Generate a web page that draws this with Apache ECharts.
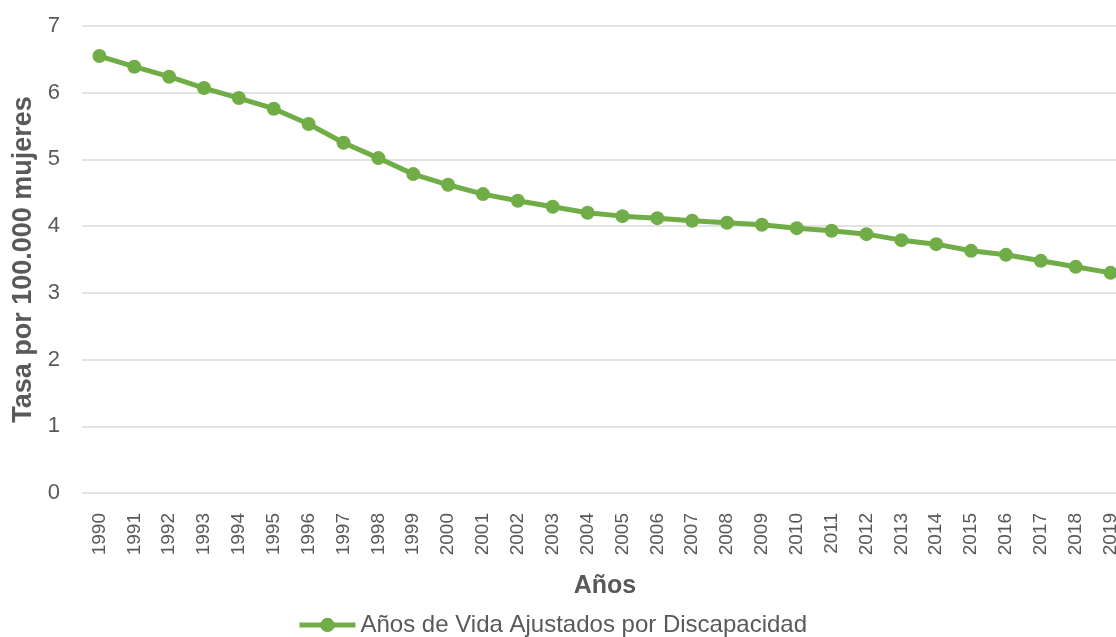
<!DOCTYPE html>
<html>
<head>
<meta charset="utf-8">
<script src="https://cdn.jsdelivr.net/npm/echarts@6/dist/echarts.min.js"></script>
<style>html,body{margin:0;padding:0;background:#fff;overflow:hidden;width:1116px;height:637px}#c{width:1128px;height:637px}</style>
</head>
<body>
<div id="c"></div>
<script>
const years = ['1990','1991','1992','1993','1994','1995','1996','1997','1998','1999','2000','2001','2002','2003','2004','2005','2006','2007','2008','2009','2010','2011','2012','2013','2014','2015','2016','2017','2018','2019'];
const avad = [6.55,6.39,6.24,6.07,5.92,5.76,5.53,5.25,5.02,4.78,4.62,4.48,4.38,4.29,4.20,4.15,4.12,4.08,4.05,4.02,3.97,3.93,3.88,3.79,3.73,3.63,3.57,3.48,3.39,3.30];
const seriesName = 'Años de Vida Ajustados por Discapacidad';
const xTitle = 'Años';
const yTitle = 'Tasa por 100.000 mujeres';

const chart = echarts.init(document.getElementById('c'));
const txt = '#595959';
const green = '#70ad47';
const font = 'Liberation Sans, Arial, sans-serif';
chart.setOption({
  animation: false,
  textStyle: {fontFamily: font},
  grid: {left: 82, top: 26, right: 0, bottom: 144, containLabel: false},
  legend: {
    data: [seriesName], left: 292, top: 608, itemWidth: 56, itemHeight: 18, itemGap: 3,
    lineStyle: {width: 5},
    textStyle: {color: txt, fontSize: 24, fontFamily: font}
  },
  xAxis: {
    type: 'category', data: years, boundaryGap: true,
    axisLine: {show: false}, axisTick: {show: false},
    axisLabel: {rotate: 90, color: txt, fontSize: 19, margin: 20, fontFamily: font},
    name: xTitle, nameLocation: 'middle', nameGap: 81,
    nameTextStyle: {color: txt, fontSize: 25, fontWeight: 'bold', fontFamily: font}
  },
  yAxis: {
    type: 'value', min: 0, max: 7, interval: 1,
    axisLine: {show: false}, axisTick: {show: false},
    axisLabel: {color: txt, fontSize: 22, margin: 22, fontFamily: font},
    splitLine: {lineStyle: {color: '#d9d9d9', width: 1.5}},
    name: yTitle, nameLocation: 'middle', nameGap: 44,
    nameTextStyle: {color: txt, fontSize: 27, fontWeight: 'bold', fontFamily: font}
  },
  series: [{
    name: seriesName, type: 'line', data: avad,
    symbol: 'circle', symbolSize: 14,
    lineStyle: {color: green, width: 5},
    itemStyle: {color: green}
  }]
});
</script>
</body>
</html>
